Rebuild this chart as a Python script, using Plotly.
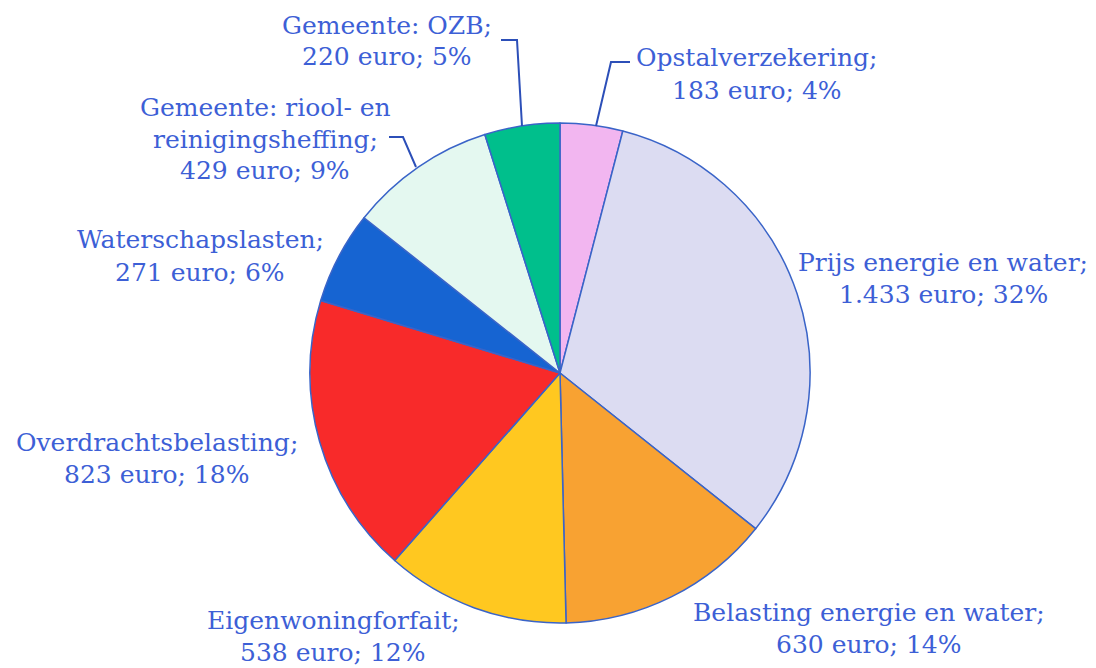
import plotly.graph_objects as go

# Data
categories = ["Opstalverzekering", "Prijs energie en water", "Belasting energie en water",
              "Eigenwoningforfait", "Overdrachtsbelasting", "Waterschapslasten",
              "Gemeente: riool- en reinigingsheffing", "Gemeente: OZB"]
values = [183, 1433, 630, 538, 823, 271, 429, 220]
value_labels = ["183", "1.433", "630", "538", "823", "271", "429", "220"]
percent_labels = ["4%", "32%", "14%", "12%", "18%", "6%", "9%", "5%"]
label_lines = [
    ["Opstalverzekering;"],
    ["Prijs energie en water;"],
    ["Belasting energie en water;"],
    ["Eigenwoningforfait;"],
    ["Overdrachtsbelasting;"],
    ["Waterschapslasten;"],
    ["Gemeente: riool- en", "reinigingsheffing;"],
    ["Gemeente: OZB;"],
]

# Styles / positions
colors = ["#f2b6f0", "#dcdcf2", "#f8a232", "#ffc820", "#f82a2a", "#1664d2", "#e4f8f0", "#00bf8c"]
W, H = 1096, 668
# label centers (px) of first line
label_pos = [(757, 58), (943, 262), (869, 612), (333, 620), (157, 442), (200, 240), (265, 107), (387, 25)]
line_gap = 32
text_color = "#3d5fd6"
font_family = "DejaVu Serif"
font_size = 25

# leader lines (px polylines)
leaders = [
    [(630, 62), (611, 62), (596, 126)],
    [(501, 40), (517, 40), (522, 126)],
    [(389, 137), (403, 137), (416, 167)],
]

def px(x, y):
    return x / W, 1 - y / H

fig = go.Figure(go.Pie(
    labels=categories, values=values, sort=False, direction="clockwise", rotation=0,
    marker=dict(colors=colors, line=dict(color="#3a64c8", width=1.5)),
    textinfo="none", hoverinfo="label+value+percent", showlegend=False,
    domain=dict(x=[310 / W, 810 / W], y=[1 - 623 / H, 1 - 123 / H]),
))

annotations = []
for i, lines in enumerate(label_lines):
    all_lines = lines + [f"{value_labels[i]} euro; {percent_labels[i]}"]
    cx, cy = label_pos[i]
    for j, t in enumerate(all_lines):
        x, y = px(cx, cy + j * line_gap)
        annotations.append(dict(x=x, y=y, xref="paper", yref="paper", text=t, showarrow=False,
                                xanchor="center", yanchor="middle",
                                font=dict(family=font_family, size=font_size, color=text_color)))

shapes = []
for poly in leaders:
    path = "M " + " L ".join(f"{px(x, y)[0]},{px(x, y)[1]}" for x, y in poly)
    shapes.append(dict(type="path", path=path, xref="paper", yref="paper",
                       line=dict(color="#2c4fb8", width=2)))

fig.update_layout(width=W, height=H, margin=dict(l=0, r=0, t=0, b=0),
                  paper_bgcolor="white", plot_bgcolor="white",
                  annotations=annotations, shapes=shapes)

fig.write_html("out.html", config={"displayModeBar": False},
               post_script="document.body.style.margin='0';document.body.style.overflow='hidden';")
